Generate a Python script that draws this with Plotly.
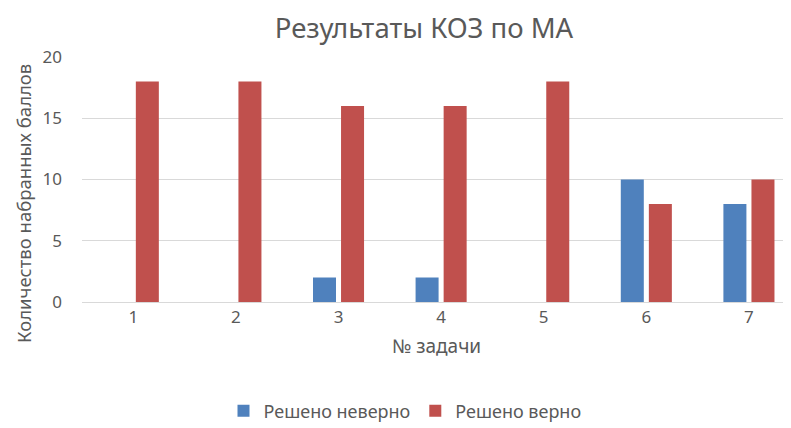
import plotly.graph_objects as go

categories = ["1", "2", "3", "4", "5", "6", "7"]
wrong = [0, 0, 2, 2, 0, 10, 8]
right = [18, 18, 16, 16, 18, 8, 10]
series_names = ["Решено неверно", "Решено верно"]
title_text = "Результаты КОЗ по МА"
x_title = "№ задачи"
y_title = "Количество набранных баллов"

FONT = "Noto Sans"
GRAY = "#595959"

# the page body has an 8px margin, so the figure starts at (8, 8)
W, H = 783, 420
ML, MT, MB = 74, 49, 126
PW, PH = W - ML, H - MT - MB
xvals = [int(c) for c in categories]

fig = go.Figure()
fig.add_trace(go.Bar(x=xvals, y=wrong, name=series_names[0],
                     marker=dict(color="#4f81bd", line=dict(width=0))))
fig.add_trace(go.Bar(x=xvals, y=right, name=series_names[1],
                     marker=dict(color="#c0504d", line=dict(width=0))))

fig.update_layout(
    width=W, height=H,
    margin=dict(l=ML, r=0, t=MT, b=MB, autoexpand=False),
    paper_bgcolor="white", plot_bgcolor="white",
    barmode="group", bargap=0.453, bargroupgap=0.18,
    font=dict(family=FONT, color=GRAY, size=16),
    title=dict(text=title_text, x=416 / W, xref="container", xanchor="center",
               y=1 - 20 / H, yref="container", yanchor="middle",
               font=dict(size=27.5, color=GRAY, family=FONT)),
    legend=dict(orientation="h", xref="container", yref="container",
                x=397 / W, xanchor="center", y=1 - 403 / H, yanchor="middle",
                font=dict(size=18, color=GRAY), itemwidth=30),
    showlegend=True,
    annotations=[dict(
        text=y_title, textangle=-90, showarrow=False,
        xref="paper", yref="paper",
        x=(15 - ML) / PW, y=(MT + PH - 196) / PH,
        xanchor="center", yanchor="middle",
        font=dict(size=18.5, color=GRAY, family=FONT),
    )],
)
fig.update_xaxes(
    range=[0.5, 7.41], tickmode="array",
    tickvals=xvals, ticktext=categories,
    showgrid=False, showline=True, linecolor="#d9d9d9", linewidth=1,
    ticks="", tickfont=dict(size=17, color=GRAY),
    title=dict(text=x_title, font=dict(size=19, color=GRAY), standoff=12),
    zeroline=False, automargin=False,
)
fig.update_yaxes(
    range=[0, 20], tickvals=[0, 5, 10, 15, 20],
    showgrid=True, gridcolor="#d9d9d9", gridwidth=1,
    showline=False, zeroline=False, ticks="",
    ticklabelstandoff=19,
    tickfont=dict(size=17, color=GRAY),
    automargin=False,
)

fig.write_html("out.html")
